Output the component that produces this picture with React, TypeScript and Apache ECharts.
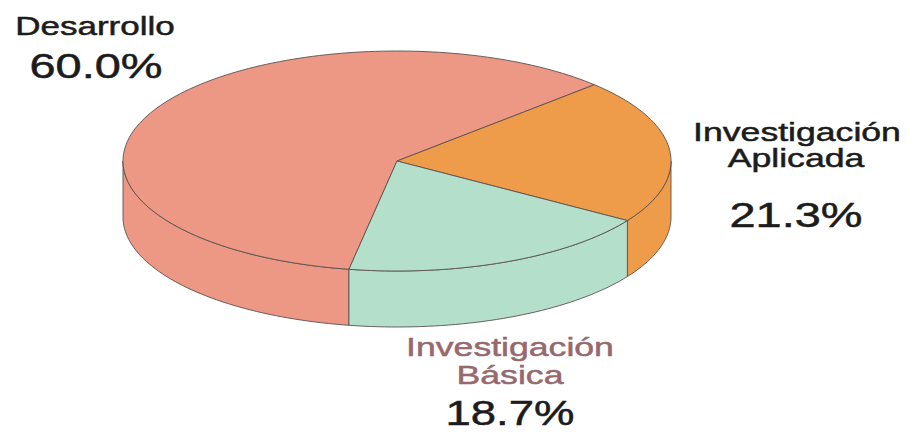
import React, { useEffect, useRef } from "react";
import * as echarts from "echarts";

const categories = ["Desarrollo", "Investigación Aplicada", "Investigación Básica"];
const values = [60.0, 21.3, 18.7];
const percentLabels = ["60.0%", "21.3%", "18.7%"];
const sliceColors = ["#EC9884", "#EE9C49", "#B4DFCA"];
const labelColors = ["#1c1c1c", "#1c1c1c", "#96696D"];

const CX = 397;
const CY = 161;
const RX = 274;
const RY = 110;
const DEPTH = 56;
const START = -100.1;

function pt(deg: number, dy: number): number[] {
  const r = (deg * Math.PI) / 180;
  return [CX + RX * Math.cos(r), CY - RY * Math.sin(r) + dy];
}

function arcPts(from: number, to: number, dy: number): number[][] {
  const n = Math.max(2, Math.ceil(Math.abs(from - to) / 1.5));
  const out: number[][] = [];
  for (let i = 0; i <= n; i++) out.push(pt(from + ((to - from) * i) / n, dy));
  return out;
}

export default function App() {
  const ref = useRef<HTMLDivElement>(null);
  useEffect(() => {
    if (!ref.current) return;
    const chart = echarts.init(ref.current, null, { renderer: "svg" });
    const total = values.reduce((a, b) => a + b, 0);
    const stroke = "#5a5050";

    const renderItem = (params: any, api: any) => {
      const i = params.dataIndex;
      let before = 0;
      for (let k = 0; k < i; k++) before += values[k];
      const v = api.value(0);
      const a0 = START - (360 * before) / total;
      const a1 = a0 - (360 * v) / total;
      const children: any[] = [];
      for (let k = -2; k <= 1; k++) {
        const lo = Math.max(a1, -180 + 360 * k);
        const hi = Math.min(a0, 360 * k);
        if (lo < hi) {
          const pts = arcPts(hi, lo, 0).concat(arcPts(lo, hi, DEPTH));
          children.push({
            type: "polygon",
            z2: 1,
            shape: { points: pts },
            style: { fill: sliceColors[i], stroke, lineWidth: 0.9 },
          });
        }
      }
      const top = [[CX, CY]].concat(arcPts(a0, a1, 0));
      children.push({
        type: "polygon",
        z2: 5,
        shape: { points: top },
        style: { fill: sliceColors[i], stroke, lineWidth: 0.9 },
      });
      return { type: "group", children };
    };

    const font = "Liberation Sans, Arial, sans-serif";
    const txt = (text: string, x: number, y: number, size: number, color: string, sx: number) => ({
      type: "text",
      x,
      y,
      scaleX: sx,
      style: {
        text,
        fill: color,
        stroke: color,
        lineWidth: 0.5,
        font: `${size}px ${font}`,
        textAlign: "center",
        textVerticalAlign: "middle",
      },
    });

    const apl = categories[1].split(" ");
    const bas = categories[2].split(" ");

    chart.setOption({
      animation: false,
      backgroundColor: "#ffffff",
      series: [
        {
          type: "custom",
          coordinateSystem: "none",
          renderItem,
          data: values.map((v, i) => ({ value: [v], name: categories[i] })),
        },
      ],
      graphic: [
        txt(categories[0], 95, 26, 25, labelColors[0], 1.4),
        txt(percentLabels[0], 96, 66, 35, labelColors[0], 1.34),
        txt(apl[0], 797, 132, 26, labelColors[1], 1.37),
        txt(apl[1], 796, 158, 26, labelColors[1], 1.37),
        txt(percentLabels[1], 796, 215, 35, labelColors[1], 1.34),
        txt(bas[0], 510, 347, 26, labelColors[2], 1.37),
        txt(bas[1], 510, 375, 26, labelColors[2], 1.37),
        txt(percentLabels[2], 510, 413, 35, "#1c1c1c", 1.3),
      ],
    });
    return () => chart.dispose();
  }, []);
  return (
    <div
      ref={ref}
      style={{ position: "fixed", left: 0, top: 0, width: 912, height: 433 }}
    />
  );
}
